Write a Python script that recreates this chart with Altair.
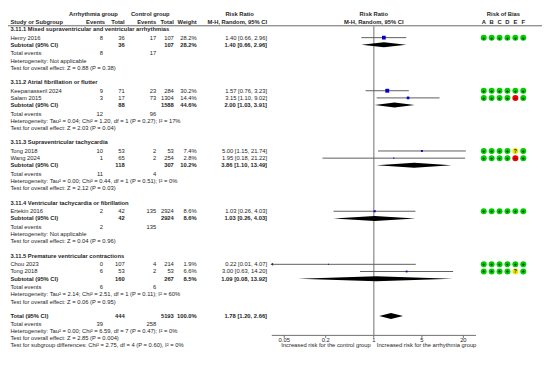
import altair as alt
import pandas as pd

# ---------------- data ----------------
group_titles = [
    "3.11.1 Mixed supraventricular and ventricular arrhythmias",
    "3.11.2 Atrial fibrillation or flutter",
    "3.11.3 Supraventricular tachycardia",
    "3.11.4 Ventricular tachycardia or fibrillation",
    "3.11.5 Premature ventricular contractions",
]
studies = ["Henry 2016", "Keepanasseril 2024", "Salam 2015", "Tong 2018", "Wang 2024",
           "Ertekin 2016", "Chou 2023", "Tong 2018"]
study_group = [0, 1, 1, 2, 2, 3, 4, 4]
ev_arr = [8, 9, 3, 10, 1, 2, 0, 6]
n_arr = [36, 71, 17, 53, 65, 42, 107, 53]
ev_ctl = [17, 23, 73, 2, 2, 135, 4, 2]
n_ctl = [107, 284, 1304, 53, 254, 2924, 214, 53]
weights = [28.2, 30.2, 14.4, 7.4, 2.8, 8.6, 1.9, 6.6]
rr = [1.40, 1.57, 3.15, 5.00, 1.95, 1.03, 0.22, 3.00]
rr_lo = [0.66, 0.76, 1.10, 1.15, 0.18, 0.26, 0.01, 0.63]
rr_hi = [2.96, 3.23, 9.02, 21.74, 21.22, 4.03, 4.07, 14.20]
bias = ["++++++", "++++++", "++++-+", "++++?+", "++++-+", "++++++", "++++++", "++++?+"]

sub_n_arr = [36, 88, 118, 42, 160]
sub_n_ctl = [107, 1588, 307, 2924, 267]
sub_weight = [28.2, 44.6, 10.2, 8.6, 8.5]
sub_rr = [1.40, 2.00, 3.86, 1.03, 1.09]
sub_lo = [0.66, 1.03, 1.10, 0.26, 0.08]
sub_hi = [2.96, 3.91, 13.49, 4.03, 13.92]
sub_ev_arr = [8, 12, 11, 2, 6]
sub_ev_ctl = [17, 96, 4, 135, 6]
sub_het = [
    "Heterogeneity: Not applicable",
    "Heterogeneity: Tau² = 0.04; Chi² = 1.20, df = 1 (P = 0.27); I² = 17%",
    "Heterogeneity: Tau² = 0.00; Chi² = 0.44, df = 1 (P = 0.51); I² = 0%",
    "Heterogeneity: Not applicable",
    "Heterogeneity: Tau² = 2.14; Chi² = 2.51, df = 1 (P = 0.11); I² = 60%",
]
sub_test = [
    "Test for overall effect: Z = 0.88 (P = 0.38)",
    "Test for overall effect: Z = 2.03 (P = 0.04)",
    "Test for overall effect: Z = 2.12 (P = 0.03)",
    "Test for overall effect: Z = 0.04 (P = 0.96)",
    "Test for overall effect: Z = 0.06 (P = 0.95)",
]
total_n = [444, 5193]
total_w = 100.0
total_rr = [1.78, 1.20, 2.66]
total_events = [39, 258]
total_texts = [
    "Heterogeneity: Tau² = 0.00; Chi² = 6.59, df = 7 (P = 0.47); I² = 0%",
    "Test for overall effect: Z = 2.85 (P = 0.004)",
    "Test for subgroup differences: Chi² = 2.75, df = 4 (P = 0.60), I² = 0%",
]
tick_values = [0.05, 0.2, 1, 5, 20]
tick_labels = ["0.05", "0.2", "1", "5", "20"]
bias_domains = list("ABCDEF")

# ---------------- layout / style ----------------
FONT = "Liberation Sans"
FS = 5.8
TXT = "#1e1e1e"
W, H = 534, 351
SX = W / 550.0


def px(x):
    return x * SX


Y0, P, G_SEC, G_SUB, G_GAP = 22.0, 7.5, 9.0, 9.0, 15.0
HEAD1, HEAD2, LINE_Y, AXIS_Y = 6.0, 15.0, 18.6, 342.3
DMIN, DMAX = 0.033, 30.5
DH_SUB, DH_TOT = 2.6, 3.1

YS = alt.Scale(domain=[0, 367], range=[0, H], nice=False, zero=False)
XS = alt.Scale(type="log", domain=[DMIN, DMAX], range=[px(271.7), px(482.0)],
               nice=False, clamp=True)
BS = alt.Scale(type="point", domain=bias_domains, range=[px(490.0), px(530.7)], padding=0)


def f2(v):
    return f"{v:.2f}"


def rrtxt(e, l, h):
    return f"{f2(e)} [{f2(l)}, {f2(h)}]"


# ---------------- build rows ----------------
rows = []
study_y = []
dia = []
y = Y0
for g in range(5):
    rows.append(dict(y=y, kind="section", label=group_titles[g]))
    y += G_SEC
    for i, sg in enumerate(study_group):
        if sg != g:
            continue
        rows.append(dict(y=y, kind="study", label=studies[i], ev1=str(ev_arr[i]), n1=str(n_arr[i]),
                         ev2=str(ev_ctl[i]), n2=str(n_ctl[i]), w=f"{weights[i]:.1f}%",
                         rr=rrtxt(rr[i], rr_lo[i], rr_hi[i])))
        study_y.append(y)
        y += P
    rows.append(dict(y=y, kind="subtotal", label="Subtotal (95% CI)", n1=str(sub_n_arr[g]),
                     n2=str(sub_n_ctl[g]), w=f"{sub_weight[g]:.1f}%",
                     rr=rrtxt(sub_rr[g], sub_lo[g], sub_hi[g])))
    dia.append((y, sub_rr[g], sub_lo[g], sub_hi[g], DH_SUB))
    y += G_SUB
    rows.append(dict(y=y, kind="events", label="Total events", ev1=str(sub_ev_arr[g]),
                     ev2=str(sub_ev_ctl[g])))
    y += P
    rows.append(dict(y=y, kind="het", label=sub_het[g]))
    y += P
    rows.append(dict(y=y, kind="test", label=sub_test[g]))
    y += G_GAP

rows.append(dict(y=y, kind="total", label="Total (95% CI)", n1=str(total_n[0]), n2=str(total_n[1]),
                 w=f"{total_w:.1f}%", rr=rrtxt(*total_rr)))
dia.append((y, total_rr[0], total_rr[1], total_rr[2], DH_TOT))
y += 8.0
rows.append(dict(y=y, kind="events", label="Total events", ev1=str(total_events[0]),
                 ev2=str(total_events[1])))
for t in total_texts:
    y += P
    rows.append(dict(y=y, kind="het", label=t))

df = pd.DataFrame(rows).fillna("")
df["b"] = df["kind"].isin(["section", "subtotal", "total"])

layers = []


def tlayer(data, field, xref, align, bold, size=FS, color=TXT):
    return alt.Chart(data).mark_text(
        align=align, baseline="middle", font=FONT, fontSize=size,
        fontWeight="bold" if bold else "normal", color=color
    ).encode(
        x=alt.value(px(xref)),
        y=alt.Y("y:Q", scale=YS, axis=None),
        text=alt.Text(f"{field}:N"),
    )


# header separator line
layers.append(
    alt.Chart(pd.DataFrame({"y": [LINE_Y]})).mark_rule(color="#6a6a6a", strokeWidth=1).encode(
        x=alt.value(0), x2=alt.value(W), y=alt.Y("y:Q", scale=YS, axis=None))
)

# vertical line of no effect
layers.append(
    alt.Chart(pd.DataFrame({"x": [1.0], "y": [LINE_Y], "y2": [AXIS_Y]})).mark_rule(
        color="#a0a0a0", strokeWidth=1.5).encode(
        x=alt.X("x:Q", scale=XS, axis=None),
        y=alt.Y("y:Q", scale=YS, axis=None), y2="y2:Q")
)

# table columns
cols = [("label", 2.5, "left"), ("ev1", 97.8, "right"), ("n1", 120.2, "right"),
        ("ev2", 152.6, "right"), ("n2", 170.8, "right"), ("w", 194.4, "right"),
        ("rr", 266.8, "right")]
for field, xref, align in cols:
    for bold in (False, True):
        sub = df[(df[field] != "") & (df["b"] == bold)][["y", field]]
        if len(sub):
            layers.append(tlayer(sub, field, xref, align, bold))

# headers
headers = [
    ("Arrhythmia group", 88.0, "center", HEAD1),
    ("Control group", 146.5, "center", HEAD1),
    ("Risk Ratio", 238.5, "center", HEAD1),
    ("Risk of Bias", 510.3, "center", HEAD1),
    ("Study or Subgroup", 2.5, "left", HEAD2),
    ("Events", 100.0, "right", HEAD2),
    ("Total", 120.2, "right", HEAD2),
    ("Events", 152.6, "right", HEAD2),
    ("Total", 170.8, "right", HEAD2),
    ("Weight", 194.4, "right", HEAD2),
    ("M-H, Random, 95% CI", 266.8, "right", HEAD2),
]
for txt, xref, align, yy in headers:
    layers.append(tlayer(pd.DataFrame({"y": [yy], "t": [txt]}), "t", xref, align, True))

# forest plot header (centred on RR = 1)
fh = pd.DataFrame({"x": [1.0, 1.0], "y": [HEAD1, HEAD2], "t": ["Risk Ratio", "M-H, Random, 95% CI"]})
layers.append(
    alt.Chart(fh).mark_text(align="center", baseline="middle", font=FONT, fontSize=FS,
                            fontWeight="bold", color=TXT).encode(
        x=alt.X("x:Q", scale=XS, axis=None), y=alt.Y("y:Q", scale=YS, axis=None), text="t:N")
)

# study CIs and squares
st = pd.DataFrame(dict(y=study_y, rr=rr, lo=rr_lo, hi=rr_hi, w=weights))
layers.append(
    alt.Chart(st).mark_rule(color="#606060", strokeWidth=1).encode(
        x=alt.X("lo:Q", scale=XS, axis=None), x2="hi:Q", y=alt.Y("y:Q", scale=YS, axis=None))
)
layers.append(
    alt.Chart(st).transform_filter(f"datum.lo < {DMIN}").mark_point(
        shape="triangle-left", filled=True, color="#303030", size=9, opacity=1).encode(
        x=alt.X("lo:Q", scale=XS, axis=None), y=alt.Y("y:Q", scale=YS, axis=None))
)
layers.append(
    alt.Chart(st).mark_square(color="#0000CC", opacity=1).encode(
        x=alt.X("rr:Q", scale=XS, axis=None), y=alt.Y("y:Q", scale=YS, axis=None),
        size=alt.Size("w:Q", scale=alt.Scale(domain=[0, 30.2], range=[0, 15]), legend=None))
)

# diamonds
drows = []
for k, (yy, est, lo, hi, dh) in enumerate(dia):
    drows += [dict(g=k, x=lo, y1=yy, y2=yy), dict(g=k, x=est, y1=yy - dh, y2=yy + dh),
              dict(g=k, x=hi, y1=yy, y2=yy)]
layers.append(
    alt.Chart(pd.DataFrame(drows)).mark_area(color="black", opacity=1, orient="vertical",
                                             interpolate="linear").encode(
        x=alt.X("x:Q", scale=XS, axis=None), y=alt.Y("y1:Q", scale=YS, axis=None), y2="y2:Q",
        detail="g:N")
)

# axis
layers.append(
    alt.Chart(pd.DataFrame({"a": [DMIN], "b": [DMAX], "y": [AXIS_Y]})).mark_rule(
        color="#707070", strokeWidth=1).encode(
        x=alt.X("a:Q", scale=XS, axis=None), x2="b:Q", y=alt.Y("y:Q", scale=YS, axis=None))
)
tk = pd.DataFrame({"t": tick_values, "lab": tick_labels, "y": AXIS_Y, "y2": AXIS_Y + 2.6,
                   "yl": AXIS_Y + 4.9})
layers.append(
    alt.Chart(tk).mark_rule(color="#707070", strokeWidth=1).encode(
        x=alt.X("t:Q", scale=XS, axis=None), y=alt.Y("y:Q", scale=YS, axis=None), y2="y2:Q")
)
layers.append(
    alt.Chart(tk).mark_text(align="center", baseline="middle", font=FONT, fontSize=FS,
                            color=TXT).encode(
        x=alt.X("t:Q", scale=XS, axis=None), y=alt.Y("yl:Q", scale=YS, axis=None), text="lab:N")
)
cap = pd.DataFrame({"x": [1.0], "y": [AXIS_Y + 10.5]})
for txt, align, dx in [("Increased risk for the control group", "right", -3),
                       ("Increased risk for the arrhythmia group", "left", 3)]:
    layers.append(
        alt.Chart(cap).mark_text(align=align, baseline="middle", font=FONT, fontSize=FS,
                                 color=TXT, dx=dx, text=txt).encode(
            x=alt.X("x:Q", scale=XS, axis=None), y=alt.Y("y:Q", scale=YS, axis=None))
    )

# risk of bias
brows = []
for yy, code in zip(study_y, bias):
    for d, j in zip(bias_domains, code):
        brows.append(dict(y=yy, d=d, j=j, s={"+": "+", "-": "−", "?": "?"}[j]))
bdf = pd.DataFrame(brows)
layers.append(
    alt.Chart(pd.DataFrame({"d": bias_domains, "y": HEAD2})).mark_text(
        align="center", baseline="middle", font=FONT, fontSize=FS, fontWeight="bold",
        color=TXT).encode(
        x=alt.X("d:N", scale=BS, axis=None), y=alt.Y("y:Q", scale=YS, axis=None), text="d:N")
)
layers.append(
    alt.Chart(bdf).mark_circle(size=36, opacity=1).encode(
        x=alt.X("d:N", scale=BS, axis=None), y=alt.Y("y:Q", scale=YS, axis=None),
        color=alt.Color("j:N", scale=alt.Scale(domain=["+", "-", "?"],
                                               range=["#00CC00", "#EE0000", "#E8E800"]),
                        legend=None))
)
layers.append(
    alt.Chart(bdf).mark_text(align="center", baseline="middle", font=FONT, fontSize=5,
                             fontWeight="bold", color="#000000").encode(
        x=alt.X("d:N", scale=BS, axis=None), y=alt.Y("y:Q", scale=YS, axis=None), text="s:N")
)

chart = alt.layer(*layers).resolve_scale(x="independent").properties(
    width=W, height=H, autosize=alt.AutoSizeParams(type="none"), padding=0,
    background="white"
).configure_view(strokeWidth=0)

chart.save("out.html", embed_options={"renderer": "svg", "actions": False})
